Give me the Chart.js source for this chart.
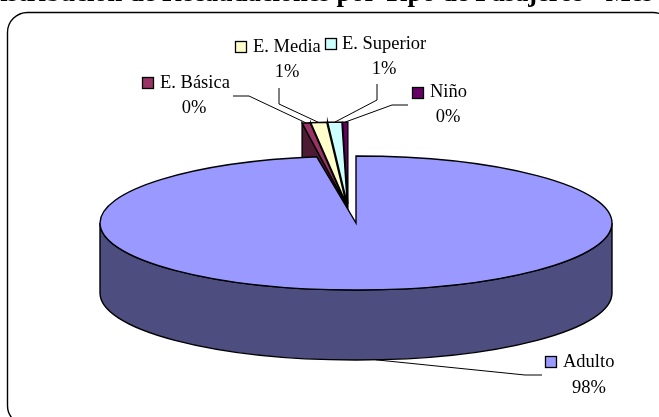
<!DOCTYPE html>
<html>
<head>
<meta charset="utf-8">
<style>
  html, body { margin: 0; padding: 0; background: #fff; overflow: hidden; }
  canvas { display: block; }
</style>
<script src="https://cdn.jsdelivr.net/npm/chart.js@4"></script>
</head>
<body>
<canvas id="chart" width="659" height="417"></canvas>
<script>
const titleText = "Distribución de Recaudaciones por Tipo de Pasajeros - Mes";
const categories = ["Adulto", "E. Básica", "E. Media", "E. Superior", "Niño"];
const values = [97.55, 0.45, 0.9, 0.8, 0.3];
const colors = ["#9999ff", "#993366", "#ffffcc", "#ccffff", "#660066"];
const wallColors = ["#4d4d80", "#4d1a33", "#808066", "#668080", "#330033"];

// 3d look of the pie
const tilt = 67 / 256;
const depth = 70;
// the small slices are pulled up out of the pie
const pulled = { shift: -8, lift: -14.2, sx: 1.11, sy: 0.32, gap: 15 };

// where the legend keys and the labels sit: key x, key y, text x, text baseline, percent x, percent baseline
const labelPlaces = [
  [545, 356, 563, 367, 589, 393],
  [142, 77, 160, 88, 194, 113],
  [235, 41, 253, 52, 287, 77],
  [325, 38, 342, 49, 384, 74],
  [412, 87, 430, 97, 448, 122],
];
// leader line elbows, the last point comes from the slice itself
const leaderElbows = [
  [[542, 375], [525, 375]],
  [[233, 96], [249, 96]],
  [[279, 88], [279, 104]],
  [[377, 84], [377, 100]],
  [[408, 105], [392, 105]],
];

function setView(ctx, arc, i) {
  if (i === 0) {
    ctx.translate(arc.x, arc.y);
    ctx.scale(1, tilt);
    ctx.translate(-arc.x, -arc.y);
    return;
  }
  const mid = (arc.startAngle + arc.endAngle) / 2;
  ctx.translate(arc.x + pulled.shift, arc.y + pulled.lift);
  ctx.scale(pulled.sx, pulled.sy);
  ctx.translate(-arc.x + Math.cos(mid) * pulled.gap, -arc.y + Math.sin(mid) * pulled.gap);
}

// screen position of a point of the slice, angle in radians
function slicePoint(ctx, arc, i, angle, r) {
  ctx.save();
  setView(ctx, arc, i);
  const m = ctx.getTransform();
  ctx.restore();
  return m.transformPoint({ x: arc.x + Math.cos(angle) * r, y: arc.y + Math.sin(angle) * r });
}

function outlineSlice(ctx, arc, i) {
  ctx.save();
  setView(ctx, arc, i);
  ctx.beginPath();
  ctx.moveTo(arc.x, arc.y);
  ctx.arc(arc.x, arc.y, arc.outerRadius, arc.startAngle, arc.endAngle);
  ctx.closePath();
  ctx.restore();
  ctx.strokeStyle = "#000";
  ctx.lineWidth = 1.4;
  ctx.stroke();
}

function drawWall(ctx, arc, i) {
  const a = slicePoint(ctx, arc, i, 0, 0);
  const b = slicePoint(ctx, arc, i, arc.startAngle, arc.outerRadius);
  ctx.beginPath();
  ctx.moveTo(b.x, b.y);
  ctx.lineTo(a.x, a.y);
  ctx.lineTo(a.x, a.y + depth);
  ctx.lineTo(b.x, b.y + depth);
  ctx.closePath();
  ctx.fillStyle = wallColors[i];
  ctx.fill();
  ctx.strokeStyle = "#000";
  ctx.lineWidth = 1.4;
  ctx.stroke();
}

function drawRim(ctx, arc) {
  const ry = arc.outerRadius * tilt;
  ctx.beginPath();
  ctx.ellipse(arc.x, arc.y, arc.outerRadius, ry, 0, Math.PI, 0, true);
  ctx.ellipse(arc.x, arc.y + depth, arc.outerRadius, ry, 0, 0, Math.PI);
  ctx.closePath();
  ctx.fillStyle = wallColors[0];
  ctx.fill();
  ctx.strokeStyle = "#000";
  ctx.lineWidth = 1.4;
  ctx.stroke();
}

const pie3d = {
  id: "pie3d",
  beforeDatasetDraw(chart) {
    const ctx = chart.ctx;
    const arcs = chart.getDatasetMeta(0).data;
    drawRim(ctx, arcs[0]);
    // pulled out slices first, right to left, the big one goes over them
    for (let i = arcs.length - 1; i >= 0; i--) {
      if (i > 0) drawWall(ctx, arcs[i], i);
      ctx.save();
      setView(ctx, arcs[i], i);
      arcs[i].draw(ctx);
      ctx.restore();
      outlineSlice(ctx, arcs[i], i);
    }
    return false;
  },
  afterDraw(chart) {
    const ctx = chart.ctx;
    const arcs = chart.getDatasetMeta(0).data;
    const total = values.reduce((a, b) => a + b, 0);

    // frame runs off the picture on the right and at the bottom
    ctx.beginPath();
    ctx.roundRect(7.5, 12.5, 665.5, 413, 20);
    ctx.strokeStyle = "#000";
    ctx.lineWidth = 1.4;
    ctx.stroke();

    ctx.fillStyle = "#000";
    ctx.textAlign = "left";
    ctx.textBaseline = "alphabetic";
    ctx.font = 'bold 26.5px "Liberation Serif"';
    ctx.fillText(titleText, -19, 0.5);

    categories.forEach((name, i) => {
      const place = labelPlaces[i];
      const arc = arcs[i];
      const end = slicePoint(ctx, arc, i, (arc.startAngle + arc.endAngle) / 2, arc.outerRadius);
      const endY = i === 0 ? end.y + depth : end.y;

      ctx.beginPath();
      ctx.moveTo(leaderElbows[i][0][0], leaderElbows[i][0][1]);
      ctx.lineTo(leaderElbows[i][1][0], leaderElbows[i][1][1]);
      ctx.lineTo(end.x, endY);
      ctx.strokeStyle = "#000";
      ctx.lineWidth = 1;
      ctx.stroke();

      ctx.fillStyle = colors[i];
      ctx.fillRect(place[0] + 0.5, place[1] + 0.5, 11, 11);
      ctx.strokeStyle = "#000";
      ctx.lineWidth = 1.3;
      ctx.strokeRect(place[0] + 0.5, place[1] + 0.5, 11, 11);

      ctx.fillStyle = "#000";
      ctx.font = '18.5px "Liberation Serif"';
      ctx.textAlign = "left";
      ctx.fillText(name, place[2], place[3]);
      ctx.textAlign = "center";
      ctx.fillText(Math.round((values[i] / total) * 100) + "%", place[4], place[5]);
    });
  },
};

new Chart(document.getElementById("chart"), {
  type: "pie",
  data: {
    labels: categories,
    datasets: [{
      data: values,
      backgroundColor: colors,
      borderWidth: 0,
    }],
  },
  options: {
    responsive: false,
    animation: false,
    events: [],
    radius: 256,
    layout: { padding: { left: 53, top: 29 } },
    plugins: {
      legend: { display: false },
      tooltip: { enabled: false },
    },
  },
  plugins: [pie3d],
});
</script>
</body>
</html>
